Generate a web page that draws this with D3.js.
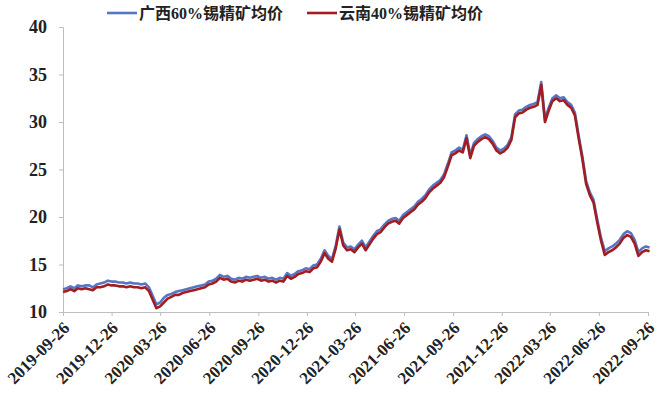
<!DOCTYPE html>
<html>
<head>
<meta charset="utf-8">
<script src="https://cdn.jsdelivr.net/npm/d3@7"></script>
<style>
  body { margin: 0; background: #fff; }
  svg { display: block; }
  .tick text { font-family: "Liberation Serif", "Times New Roman", serif; font-weight: bold; fill: #222; }
</style>
</head>
<body>
<div id="chart"></div>
<script>
// weekly series, first point on 2019-09-26
const startDate = "2019-09-26";

// 广西60%锡精矿均价 (万元/吨)
const gxPrice = [
  12.4, 12.5, 12.7, 12.5, 12.8, 12.7, 12.8, 12.8, 12.6, 12.9, 13.0, 13.1, 13.3, 13.2,
  13.2, 13.1, 13.1, 13.0, 13.1, 13.0, 13.0, 12.9, 13.0, 12.6, 11.7, 10.8, 11.0, 11.5,
  11.8, 11.9, 12.1, 12.2, 12.3, 12.4, 12.5, 12.6, 12.7, 12.8, 12.9,
  13.2, 13.3, 13.5, 13.9, 13.7, 13.8, 13.5, 13.4, 13.6, 13.5, 13.7, 13.6, 13.7, 13.8,
  13.6, 13.7, 13.5, 13.6, 13.4, 13.6, 13.5, 14.1, 13.8, 14.0, 14.3, 14.4,
  14.6, 14.5, 14.9, 15.0, 15.6, 16.5, 15.9, 15.6, 17.0, 19.0, 17.3, 16.8, 16.9, 16.6,
  17.1, 17.5, 16.8, 17.4, 18.0, 18.5, 18.7, 19.2, 19.6, 19.8, 19.9, 19.6,
  20.2, 20.5, 20.8, 21.1, 21.6, 21.9, 22.3, 22.9, 23.3, 23.6, 23.9, 24.5, 25.6, 26.8,
  27.0, 27.3, 27.1, 28.6, 26.5, 27.8, 28.2, 28.5, 28.7, 28.5, 28.0, 27.3, 27.0, 27.2,
  27.6, 28.4,
  30.8, 31.2, 31.3, 31.6, 31.8, 31.9, 32.1, 34.2, 30.3, 31.5, 32.5, 32.8, 32.5, 32.6,
  32.1, 31.8, 31.0, 28.6, 26.4, 23.8, 22.6, 21.8, 19.7, 17.8, 16.4, 16.7, 16.9, 17.2,
  17.6, 18.2, 18.5, 18.3, 17.6, 16.3, 16.7, 16.9, 16.8
];

// 云南40%锡精矿均价
const ynPrice = [
  12.1, 12.2, 12.4, 12.2, 12.5, 12.4, 12.5, 12.4, 12.3, 12.6, 12.6, 12.7, 12.9, 12.8,
  12.8, 12.7, 12.7, 12.6, 12.7, 12.6, 12.6, 12.5, 12.6, 12.2, 11.3, 10.4, 10.6, 11.0,
  11.4, 11.6, 11.8, 11.8, 12.0, 12.1, 12.2, 12.3, 12.4, 12.5, 12.6,
  12.9, 13.0, 13.2, 13.6, 13.4, 13.5, 13.2, 13.1, 13.3, 13.2, 13.4, 13.3, 13.4, 13.5,
  13.3, 13.4, 13.2, 13.3, 13.1, 13.3, 13.2, 13.8, 13.5, 13.7, 14.0, 14.1,
  14.3, 14.2, 14.6, 14.7, 15.3, 16.2, 15.6, 15.3, 16.7, 18.7, 17.0, 16.5, 16.6, 16.3,
  16.8, 17.2, 16.5, 17.1, 17.7, 18.2, 18.4, 18.9, 19.3, 19.5, 19.6, 19.3,
  19.9, 20.2, 20.5, 20.8, 21.3, 21.6, 22.0, 22.6, 23.0, 23.3, 23.6, 24.2, 25.3, 26.5,
  26.7, 27.0, 26.8, 28.3, 26.2, 27.5, 27.9, 28.2, 28.4, 28.2, 27.7, 27.0, 26.7, 26.9,
  27.3, 28.1,
  30.5, 30.9, 31.0, 31.3, 31.5, 31.6, 31.8, 33.9, 30.0, 31.2, 32.2, 32.5, 32.2, 32.3,
  31.8, 31.5, 30.7, 28.3, 26.1, 23.5, 22.3, 21.5, 19.4, 17.5, 16.0, 16.3, 16.5, 16.8,
  17.2, 17.8, 18.1, 17.9, 17.2, 15.9, 16.3, 16.5, 16.4
];

const seriesNames = ["广西60%锡精矿均价", "云南40%锡精矿均价"];
const seriesColors = ["#5675c2", "#a11d22"];

const xTickLabels = [
  "2019-09-26", "2019-12-26", "2020-03-26", "2020-06-26", "2020-09-26",
  "2020-12-26", "2021-03-26", "2021-06-26", "2021-09-26", "2021-12-26",
  "2022-03-26", "2022-06-26", "2022-09-26"
];
const yTicks = [10, 15, 20, 25, 30, 35, 40];

const width = 664;
const height = 401;
const margin = { top: 27, right: 16, bottom: 89, left: 63 };

const parseDate = d3.timeParse("%Y-%m-%d");
const start = parseDate(startDate);
const dates = gxPrice.map((_, i) => d3.timeDay.offset(start, i * 7));
const tickDates = xTickLabels.map(parseDate);

const svg = d3
  .select("#chart")
  .append("svg")
  .attr("width", width)
  .attr("height", height);

const x = d3
  .scaleTime()
  .domain([tickDates[0], tickDates[tickDates.length - 1]])
  .range([margin.left, width - margin.right]);

const y = d3
  .scaleLinear()
  .domain([10, 40])
  .range([height - margin.bottom, margin.top]);

// y axis
const yAxis = svg
  .append("g")
  .attr("transform", `translate(${margin.left},0)`)
  .call(d3.axisLeft(y).tickValues(yTicks).tickSize(4).tickPadding(12));
yAxis.selectAll(".tick text").style("font-size", "18px");

// x axis, labels turned 45 degrees
const xAxis = svg
  .append("g")
  .attr("transform", `translate(0,${height - margin.bottom})`)
  .call(
    d3
      .axisBottom(x)
      .tickValues(tickDates)
      .tickSize(4)
      .tickFormat(d3.timeFormat("%Y-%m-%d"))
  );
xAxis
  .selectAll(".tick text")
  .style("font-size", "17px")
  .attr("text-anchor", "end")
  .attr("dy", null)
  .attr("y", 0)
  .attr("transform", "translate(7,17) rotate(-45)");

svg.selectAll(".domain, .tick line").attr("stroke", "#bdbdbd");

// lines
const line = d3
  .line()
  .x((d, i) => x(dates[i]))
  .y((d) => y(d))
  .curve(d3.curveLinear);

[gxPrice, ynPrice].forEach((values, k) => {
  svg
    .append("path")
    .datum(values)
    .attr("fill", "none")
    .attr("stroke", seriesColors[k])
    .attr("stroke-width", 2.6)
    .attr("stroke-linejoin", "round")
    .attr("d", line);
});

// legend
const legendX = [107, 307];
const legend = svg
  .append("g")
  .selectAll("g")
  .data(seriesNames)
  .join("g")
  .attr("transform", (d, i) => `translate(${legendX[i]},13)`);

legend
  .append("line")
  .attr("x1", 0)
  .attr("x2", 30)
  .attr("stroke", (d, i) => seriesColors[i])
  .attr("stroke-width", 2.6);

legend
  .append("text")
  .attr("x", 32)
  .attr("dy", "0.36em")
  .style("font-family", '"Liberation Serif", "Noto Sans CJK SC", serif')
  .style("font-weight", "bold")
  .style("font-size", "16px")
  .attr("fill", "#222")
  .text((d) => d);
</script>
</body>
</html>
